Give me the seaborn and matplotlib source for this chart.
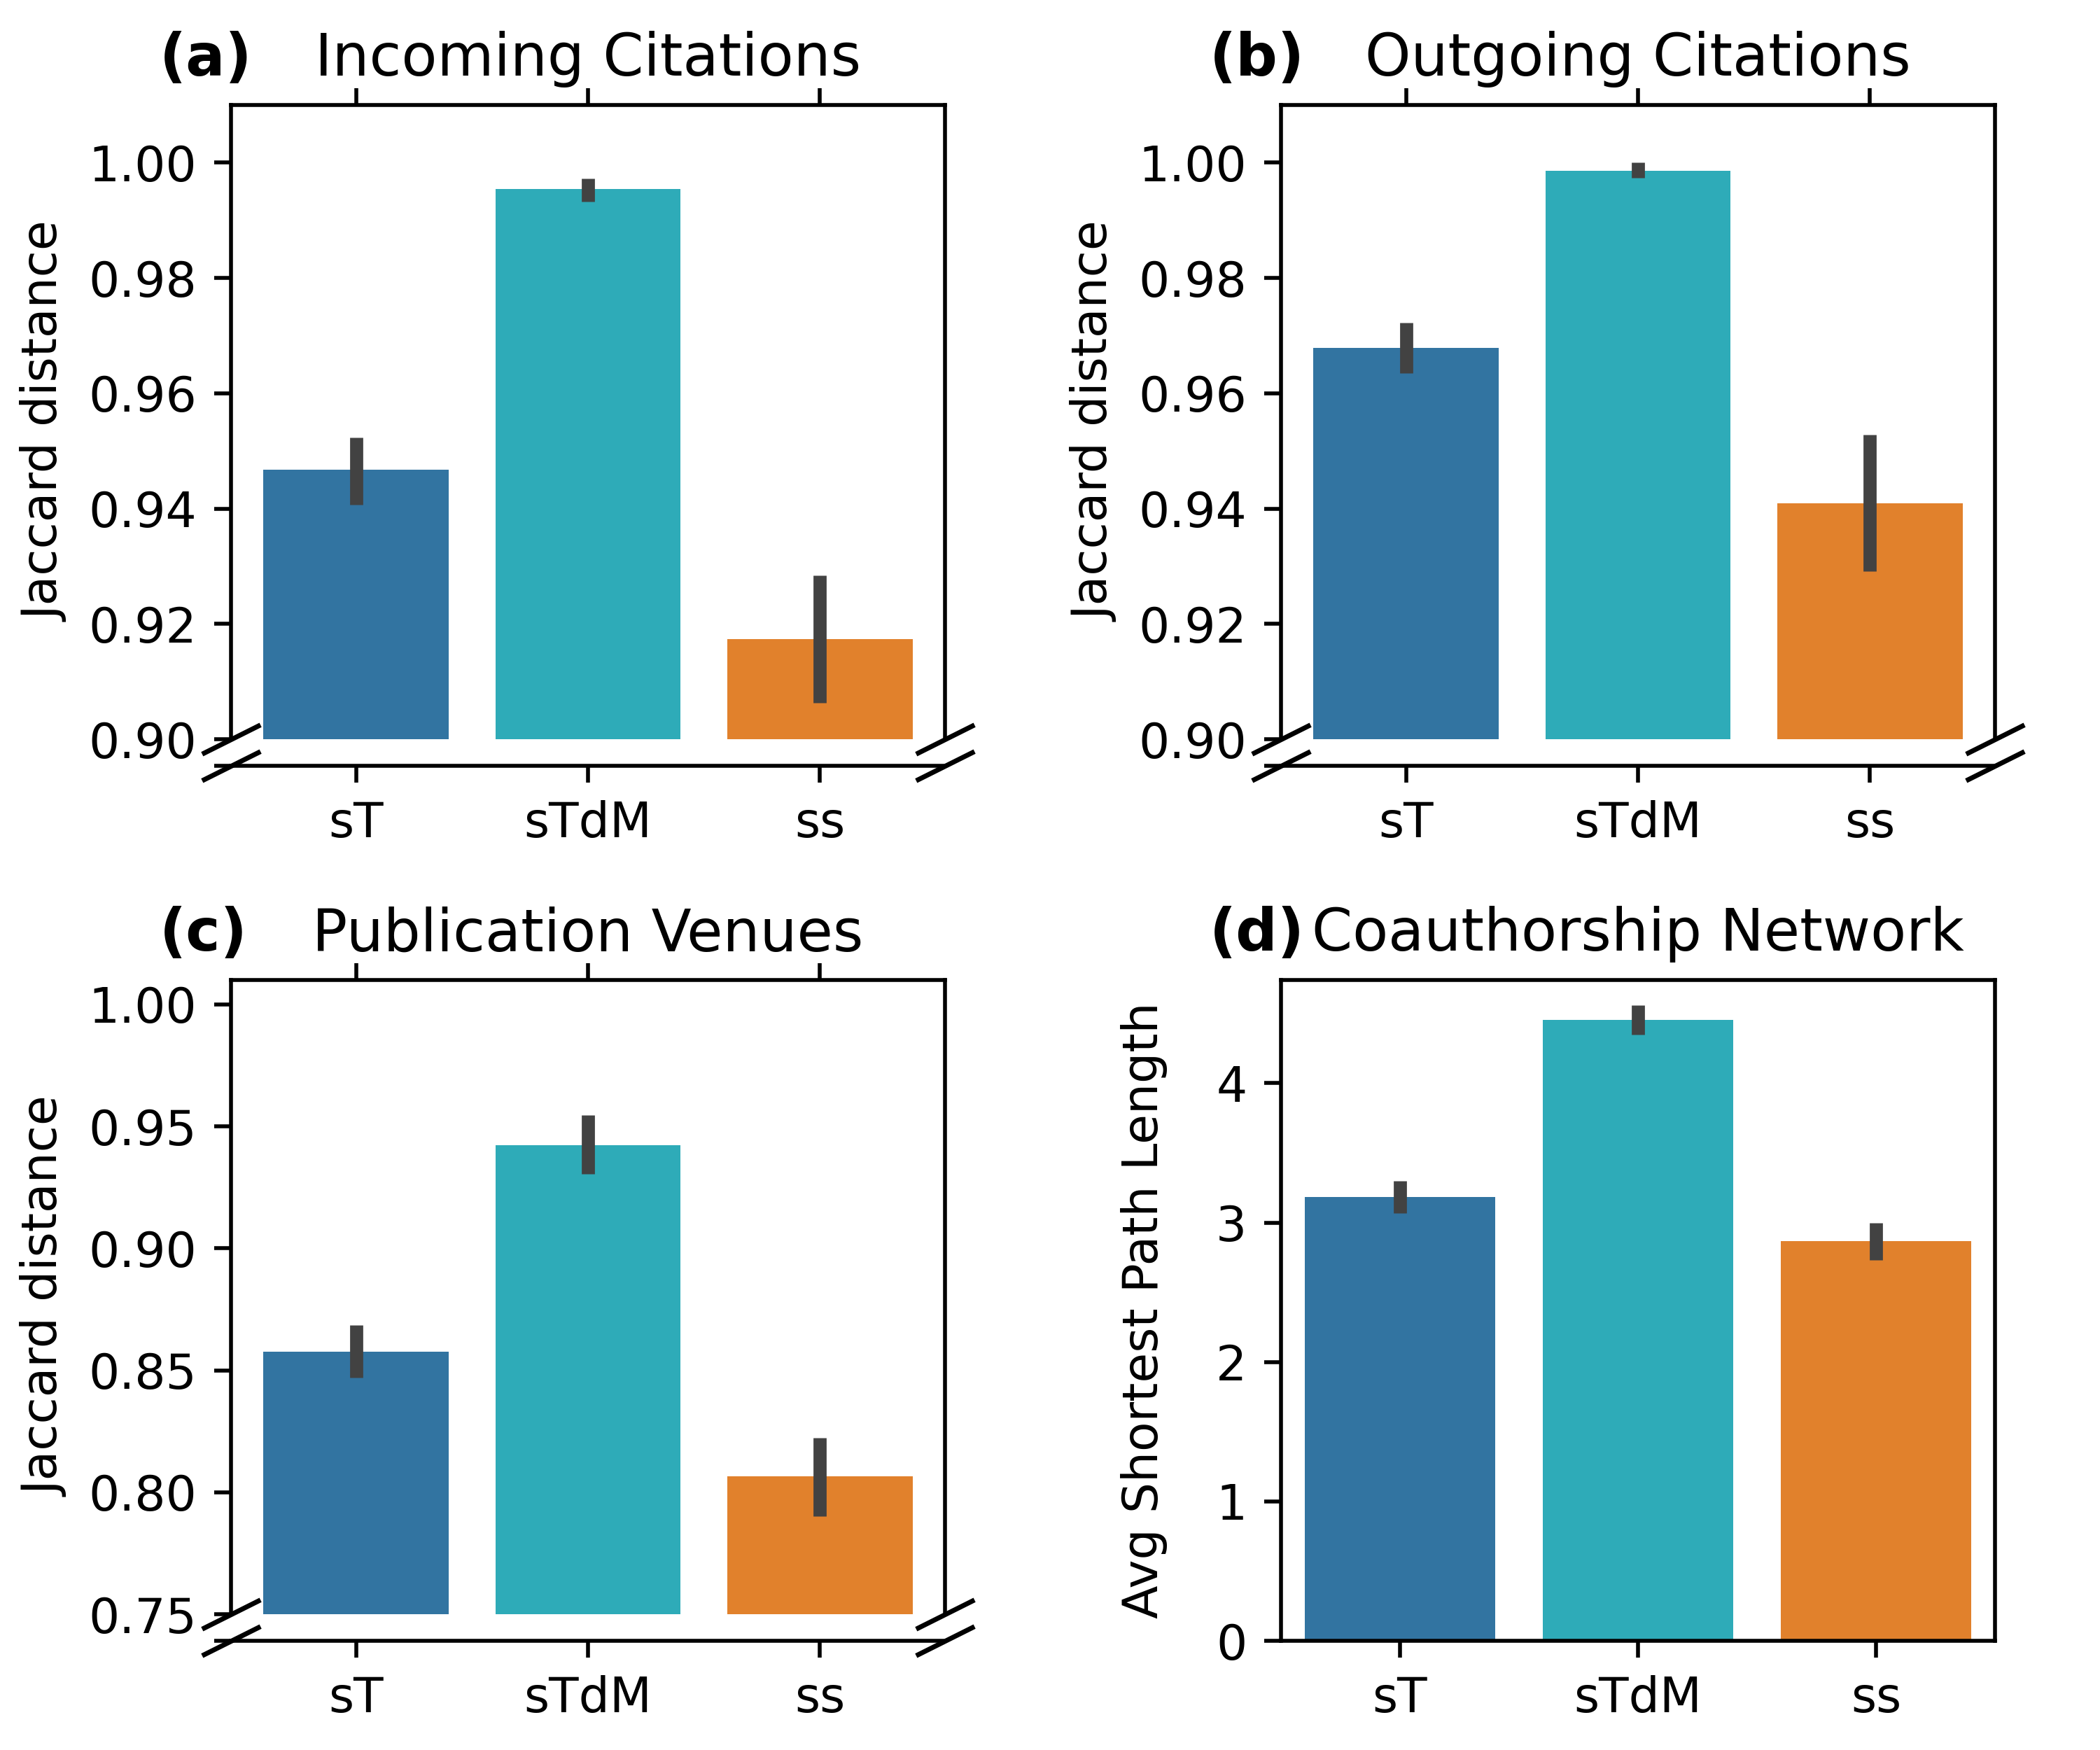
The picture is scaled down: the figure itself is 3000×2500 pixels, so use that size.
import matplotlib
matplotlib.use("Agg")
import matplotlib.pyplot as plt
import seaborn as sns

# Categories and colours
cats = ['sT', 'sTdM', 'ss']
palette = ['tab:blue', 'tab:cyan', 'tab:orange']

# (a) Incoming citations - Jaccard distance
inc_mean = [0.9467, 0.9954, 0.9174]
inc_lo = [0.9407, 0.9933, 0.9063]
inc_hi = [0.9523, 0.9973, 0.9284]

# (b) Outgoing citations - Jaccard distance
out_mean = [0.9679, 0.9986, 0.9409]
out_lo = [0.9635, 0.9974, 0.9291]
out_hi = [0.9723, 1.0000, 0.9528]

# (c) Publication venues - Jaccard distance
ven_mean = [0.8575, 0.9424, 0.8065]
ven_lo = [0.8470, 0.9304, 0.7901]
ven_hi = [0.8684, 0.9545, 0.8224]

# (d) Coauthorship network - avg shortest path length
coa_mean = [3.183, 4.452, 2.865]
coa_lo = [3.067, 4.346, 2.731]
coa_hi = [3.298, 4.558, 3.000]

jac_ticks_ab = [0.90, 0.92, 0.94, 0.96, 0.98, 1.00]
jac_ticks_c = [0.75, 0.80, 0.85, 0.90, 0.95, 1.00]

fig = plt.figure(figsize=(6, 5))

W = 0.34
LOW_H = 0.005


def bars(ax, mean, lo, hi):
    sns.barplot(x=cats, y=mean, hue=cats, palette=palette, errorbar=None,
                legend=False, ax=ax)
    # error bars drawn from the read-off interval ends
    ax.vlines(range(len(cats)), lo, hi, color='.26', lw=2.7, zorder=3)


def broken_panel(left, bottom_low, bottom_top, top, mean, lo, hi, ylim, yticks,
                 ylabel, title, tag):
    ax = fig.add_axes([left, bottom_top, W, top - bottom_top])
    ax2 = fig.add_axes([left, bottom_low, W, LOW_H])
    bars(ax, mean, lo, hi)
    ax.set_ylim(*ylim)
    ax.set_yticks(yticks)
    ax.set_yticklabels([f'{t:.2f}' for t in yticks])
    ax.set_xlim(-0.54, 2.54)
    ax.set_xticks(range(len(cats)))
    ax.tick_params(axis='x', bottom=False, labelbottom=False, top=True, labeltop=False)
    ax.spines['bottom'].set_visible(False)
    ax.set_ylabel(ylabel)
    ax.set_xlabel('')
    ax.set_title(title)
    ax.set_title(tag, loc='left', fontweight='bold', x=-0.1)

    # small lower axes carrying the category labels
    ax2.set_xlim(-0.54, 2.54)
    ax2.set_ylim(0, 1)
    ax2.set_xticks(range(len(cats)))
    ax2.set_xticklabels(cats)
    ax2.set_yticks([0])
    ax2.set_yticklabels([''])
    for s in ['top', 'left', 'right']:
        ax2.spines[s].set_visible(False)
    ax2.patch.set_visible(False)

    # break marks
    kw = dict(marker=[(-1, -0.5), (1, 0.5)], markersize=12, linestyle='none',
              color='k', mec='k', mew=1, clip_on=False)
    ax.plot([0, 1], [0, 0], transform=ax.transAxes, **kw)
    ax2.plot([0, 1], [0, 0], transform=ax2.transAxes, **kw)


broken_panel(0.11, 0.5624, 0.5776, 0.94, inc_mean, inc_lo, inc_hi, (0.90, 1.01),
             jac_ticks_ab, 'Jaccard distance', 'Incoming Citations', '(a)')
broken_panel(0.61, 0.5624, 0.5776, 0.94, out_mean, out_lo, out_hi, (0.90, 1.01),
             jac_ticks_ab, 'Jaccard distance', 'Outgoing Citations', '(b)')
broken_panel(0.11, 0.0624, 0.0776, 0.44, ven_mean, ven_lo, ven_hi, (0.75, 1.01),
             jac_ticks_c, 'Jaccard distance', 'Publication Venues', '(c)')

# (d) regular axes
axd = fig.add_axes([0.61, 0.0624, W, 0.44 - 0.0624])
bars(axd, coa_mean, coa_lo, coa_hi)
axd.set_ylim(0, 4.74)
axd.set_xlim(-0.5, 2.5)
axd.set_ylabel('Avg Shortest Path Length', labelpad=10)
axd.set_title('Coauthorship Network')
axd.set_title('(d)', loc='left', fontweight='bold', x=-0.1)

fig.savefig('out.png', dpi=500)
